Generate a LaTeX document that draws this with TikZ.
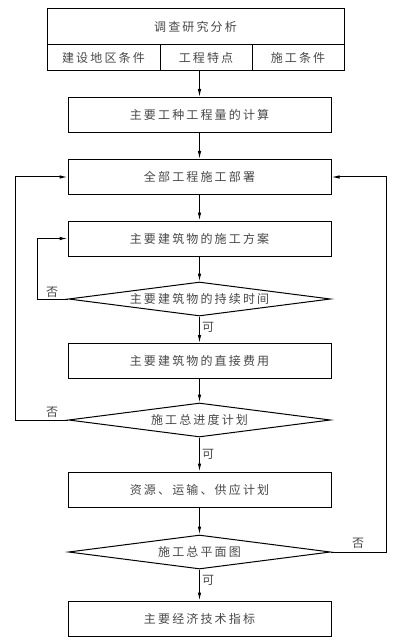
\documentclass[tikz,border=0pt]{standalone}
\usepackage{fontspec}
\setmainfont{Noto Sans CJK SC}[LetterSpace=18]
\usetikzlibrary{shapes.geometric,arrows.meta}
\begin{document}
\begin{tikzpicture}[x=1pt,y=-1pt,
  every node/.style={font=\fontsize{12pt}{14pt}\selectfont, text=black!72},
  box/.style={draw=black, line width=1pt, minimum width=263pt, minimum height=35pt, inner sep=0pt},
  cell/.style={draw=black, line width=1pt, inner sep=0pt},
  dia/.style={draw=black, diamond, shape aspect=7.7, line width=1pt, minimum width=262pt, minimum height=34pt, inner sep=0pt},
  arr/.style={-{Latex[length=8pt,width=3.5pt]}, line width=1pt},
  lab/.style={inner sep=0pt}]
\useasboundingbox (0,0) rectangle (403,644);
% top box
\node[cell, minimum width=297pt, minimum height=36pt] (t) at (195.5,27) {调查研究分析};
\node[cell, minimum width=113pt, minimum height=26pt] (s1) at (103.5,58) {建设地区条件};
\node[cell, minimum width=92pt, minimum height=26pt] (s2) at (206,58) {工程特点};
\node[cell, minimum width=92pt, minimum height=26pt] (s3) at (298,58) {施工条件};
% boxes
\node[box] (b2) at (199.5,115) {主要工种工程量的计算};
\node[box] (b3) at (199.5,177) {全部工程施工部署};
\node[box] (b4) at (199.5,238.5) {主要建筑物的施工方案};
\node[dia] (d1) at (199.5,299) {主要建筑物的持续时间};
\node[box] (b5) at (199.5,361) {主要建筑物的直接费用};
\node[dia] (d2) at (199.5,420) {施工总进度计划};
\node[box] (b6) at (199.5,489.5) {资源、运输、供应计划};
\node[dia] (d3) at (199.5,552) {施工总平面图};
\node[box] (b7) at (199.5,618.5) {主要经济技术指标};
% loop coordinates
\coordinate (lo) at (15,0);
\coordinate (li) at (37,0);
\coordinate (ro) at (386,0);
% arrows
\draw[arr] (s2.south -| b2) -- (b2.north);
\draw[arr] (b2) -- (b3);
\draw[arr] (b3) -- (b4);
\draw[arr] (b4) -- (d1);
\draw[arr] (d1) -- (b5);
\draw[arr] (b5) -- (d2);
\draw[arr] (d2) -- (b6);
\draw[arr] (b6) -- (d3);
\draw[arr] (d3) -- (b7);
\draw[arr] (d1.west) -- (d1.west -| li) |- (b4.west);
\draw[arr] (d2.west) -- (d2.west -| lo) |- (b3.west);
\draw[arr] (d3.east) -- (d3.east -| ro) |- (b3.east);
% labels
\node[lab] (n1) at (52,292) {否};
\node[lab] (n2) at (52,412) {否};
\node[lab] (n3) at (358,543) {否};
\node[lab] (k1) at (208,327) {可};
\node[lab] (k2) at (208,454) {可};
\node[lab] (k3) at (208,580) {可};
\end{tikzpicture}
\end{document}
